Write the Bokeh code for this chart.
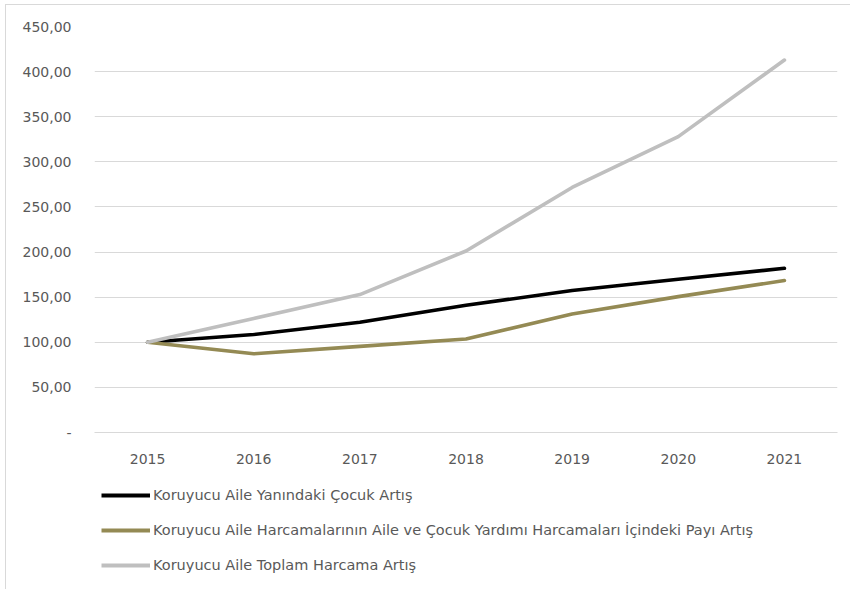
from bokeh.plotting import figure
from bokeh.layouts import column
from bokeh.models import Legend, LegendItem, FixedTicker, Range1d, CustomJSTickFormatter
from bokeh.embed import file_html
from bokeh.resources import INLINE

years = [2015, 2016, 2017, 2018, 2019, 2020, 2021]
cocuk = [100, 108.6, 122.2, 141.0, 157.3, 169.8, 182.0]
pay = [100, 87.3, 95.5, 103.6, 131.3, 150.6, 168.4]
toplam = [100, 126.4, 152.9, 201.2, 271.6, 327.9, 412.8]
y_ticks = [0, 50, 100, 150, 200, 250, 300, 350, 400, 450]

names = [
    "Koruyucu Aile Yanındaki Çocuk Artış",
    "Koruyucu Aile Harcamalarının Aile ve Çocuk Yardımı Harcamaları İçindeki Payı Artış",
    "Koruyucu Aile Toplam Harcama Artış",
]
colors = ["#000000", "#948A54", "#BFBFBF"]

FONT = "DejaVu Sans"
TXT = "#595959"
LW = 3.6

p = figure(width=844, height=470, output_backend="svg", toolbar_location=None,
           x_range=Range1d(2014.5, 2021.5), y_range=Range1d(0, 450),
           min_border_left=88, min_border_right=13, min_border_top=21, min_border_bottom=43)
p.outline_line_color = None
p.background_fill_color = "white"
p.border_fill_color = "white"

series = [cocuk, pay, toplam]
for vals, c in zip(series, colors):
    p.line(years, vals, line_color=c, line_width=LW, line_join="round", line_cap="round")

p.xgrid.grid_line_color = None
p.ygrid.grid_line_color = "#D9D9D9"
p.ygrid.grid_line_width = 1
p.ygrid.ticker = FixedTicker(ticks=y_ticks)

p.xaxis.ticker = FixedTicker(ticks=years)
p.xaxis.axis_line_color = "#D9D9D9"
p.xaxis.major_tick_line_color = None
p.xaxis.minor_tick_line_color = None
p.xaxis.major_label_text_font = FONT
p.xaxis.major_label_text_font_size = "14px"
p.xaxis.major_label_text_color = TXT
p.xaxis.major_label_standoff = 15

p.yaxis.ticker = FixedTicker(ticks=y_ticks)
p.yaxis.axis_line_color = None
p.yaxis.major_tick_line_color = None
p.yaxis.minor_tick_line_color = None
p.yaxis.major_label_text_font = FONT
p.yaxis.major_label_text_font_size = "14px"
p.yaxis.major_label_text_color = TXT
p.yaxis.major_label_standoff = 17
p.yaxis.formatter = CustomJSTickFormatter(code="""
if (tick == 0) { return '-'; }
return tick.toFixed(2).replace('.', ',');
""")

# legend panel (its lines sit outside its visible ranges; only legend swatches show)
lg = figure(width=844, height=114, output_backend="svg", toolbar_location=None,
            x_axis_location=None, y_axis_location=None,
            x_range=Range1d(0, 1), y_range=Range1d(0, 1),
            min_border_left=0, min_border_right=0, min_border_top=0, min_border_bottom=0)
lg.outline_line_color = None
lg.xgrid.grid_line_color = None
lg.ygrid.grid_line_color = None
lg.background_fill_color = "white"
lg.border_fill_color = "white"
leg_renderers = [lg.line(years, vals, line_color=c, line_width=4)
                 for vals, c in zip(series, colors)]

items = [LegendItem(label=n, renderers=[r]) for n, r in zip(names, leg_renderers)]
legend = Legend(items=items, orientation="vertical", location=(7, 14),
                glyph_width=49, glyph_height=20, label_height=20, spacing=15,
                label_standoff=3, padding=0, margin=0,
                label_text_font=FONT, label_text_font_size="14.5px",
                label_text_color=TXT, border_line_color=None,
                background_fill_alpha=0)
lg.add_layout(legend, "center")

layout = column(p, lg, spacing=0,
                styles={"border-left": "1px solid #D9D9D9", "border-top": "1px solid #D9D9D9",
                        "margin-left": "5px", "margin-top": "4px"})
open("out.html", "w").write(file_html(layout, INLINE))
